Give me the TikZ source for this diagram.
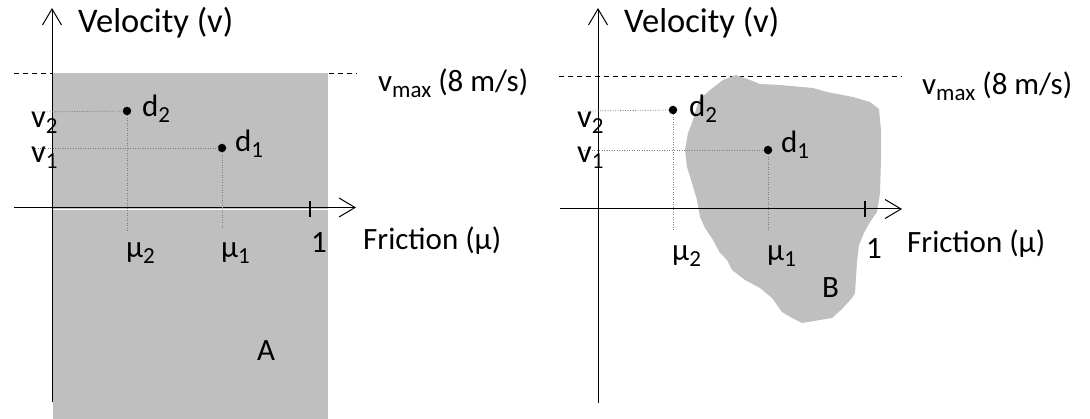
\documentclass[tikz,border=0pt]{standalone}
\usepackage{fontspec}
\setmainfont{Carlito}
\usetikzlibrary{arrows.meta}
\definecolor{regiongray}{RGB}{191,191,191}
\definecolor{guidegray}{RGB}{125,125,125}
\newcommand{\bigtxt}{\fontsize{31}{37}\selectfont}
\newcommand{\titletxt}{\fontsize{34.5}{40}\selectfont}
\newcommand{\lbltxt}{\fontsize{32.5}{38}\selectfont}
\newcommand{\subtxt}[1]{\raisebox{-6pt}{\fontsize{23}{26}\selectfont #1}}
\begin{document}
\begin{tikzpicture}[x=1pt,y=-1pt,
  lbl/.style={anchor=base west, inner sep=0pt, font=\bigtxt},
  title/.style={lbl, font=\titletxt},
  ptlbl/.style={lbl, font=\lbltxt},
  unitlbl/.style={lbl, font=\bigtxt},
  axisline/.style={line width=1pt, -{Straight Barb[length=16pt,width=19pt]}},
  guide/.style={guidegray, line width=0.7pt, dash pattern=on 1pt off 1.5pt},
  limitline/.style={line width=0.8pt, dash pattern=on 5pt off 4pt},
  dotnode/.style={circle, fill=black, inner sep=0pt, minimum size=8.5pt},
  tickline/.style={line width=1.4pt},
  region/.style={fill=regiongray}]
\useasboundingbox (0,0) rectangle (1090,419);

% ---------------- left panel ----------------
\coordinate (lA0) at (14,73);
\coordinate (lA1) at (357,73);
\draw[limitline] (lA0) -- (lA1);
\fill[region] (53,73.5) rectangle (328,419);

\coordinate (xA0) at (14,207.5);
\coordinate (xA1) at (356,207.5);
\coordinate (yA0) at (52,402);
\coordinate (yA1) at (52,8);
\draw[axisline] (xA0) -- (xA1);
\draw[white, line width=1pt] (53,209.3) -- (328,209.3);
\draw[axisline] (yA0) -- (yA1);
\coordinate (tA0) at (310,201);
\coordinate (tA1) at (310,217);
\draw[tickline] (tA0) -- (tA1);

\node[dotnode] (dA2) at (127,111) {};
\node[dotnode] (dA1) at (222,148) {};
\coordinate (hA2) at (37,112);
\coordinate (hA1) at (35,148);
\coordinate (mA2) at (127,231);
\coordinate (mA1) at (222,229);
\draw[guide] (hA2) -- (dA2);
\draw[guide] (hA1) -- (dA1);
\draw[guide] (dA2) -- (mA2);
\draw[guide] (dA1) -- (mA1);

\node[title] (velA) at (78,33) {Velocity (v)};
\node[lbl] (vmaxA) at (378,92) {v\subtxt{max} (8 m/s)};
\node[lbl] (fricA) at (363,250) {Friction (μ)};
\node[unitlbl] (oneA) at (311,253) {1};
\node[lbl] (muA2) at (126,258) {μ\subtxt{2}};
\node[lbl] (muA1) at (221,258) {μ\subtxt{1}};
\node[ptlbl] (vA2) at (31,128) {v\subtxt{2}};
\node[ptlbl] (vA1) at (31,163) {v\subtxt{1}};
\node[lbl] (ldA2) at (142,117) {d\subtxt{2}};
\node[lbl] (ldA1) at (235,152) {d\subtxt{1}};
\node[lbl] (labA) at (257,361) {A};

% ---------------- right panel ----------------
\coordinate (lB0) at (559,76);
\coordinate (lB1) at (902,76);
\draw[limitline] (lB0) -- (lB1);
\fill[region]
 (736,75) -- (750,80) -- (760,84) -- (780,85) -- (813,88) -- (827,92) -- (853,97) -- (870,102) -- (879,109)
 -- (881,130) -- (881,160) -- (880,193) -- (877,212) -- (870,222) -- (864,233) -- (859,245) -- (857,262)
 -- (855,293) -- (852,298) -- (842,309) -- (832,318) -- (802,323) -- (792,318) -- (782,312) -- (772,298)
 -- (760,288) -- (745,280) -- (732,270) -- (727,260) -- (720,253) -- (713,240) -- (705,228) -- (700,217)
 -- (697,200) -- (692,183) -- (687,167) -- (685,150) -- (688,133) -- (692,123) -- (695,113) -- (699,100)
 -- (710,90) -- (723,80) -- cycle;

\coordinate (xB0) at (560,209);
\coordinate (xB1) at (902,209);
\coordinate (yB0) at (598,403);
\coordinate (yB1) at (598,8);
\draw[axisline] (xB0) -- (xB1);
\draw[axisline] (yB0) -- (yB1);
\coordinate (tB0) at (865,201);
\coordinate (tB1) at (865,217);
\draw[tickline] (tB0) -- (tB1);

\node[dotnode] (dB2) at (673,110) {};
\node[dotnode] (dB1) at (768,150) {};
\coordinate (hB2) at (585,111);
\coordinate (hB1) at (584,150);
\coordinate (mB2) at (673,230);
\coordinate (mB1) at (768,230);
\draw[guide] (hB2) -- (dB2);
\draw[guide] (hB1) -- (dB1);
\draw[guide] (dB2) -- (mB2);
\draw[guide] (dB1) -- (mB1);

\node[title] (velB) at (624,33) {Velocity (v)};
\node[lbl] (vmaxB) at (922,95) {v\subtxt{max} (8 m/s)};
\node[lbl] (fricB) at (907,253) {Friction (μ)};
\node[unitlbl] (oneB) at (866,259) {1};
\node[lbl] (muB2) at (672,261) {μ\subtxt{2}};
\node[lbl] (muB1) at (767,261) {μ\subtxt{1}};
\node[ptlbl] (vB2) at (577,128) {v\subtxt{2}};
\node[ptlbl] (vB1) at (577,163) {v\subtxt{1}};
\node[lbl] (ldB2) at (689,117) {d\subtxt{2}};
\node[lbl] (ldB1) at (781,153) {d\subtxt{1}};
\node[lbl] (labB) at (822,298) {B};
\end{tikzpicture}
\end{document}
